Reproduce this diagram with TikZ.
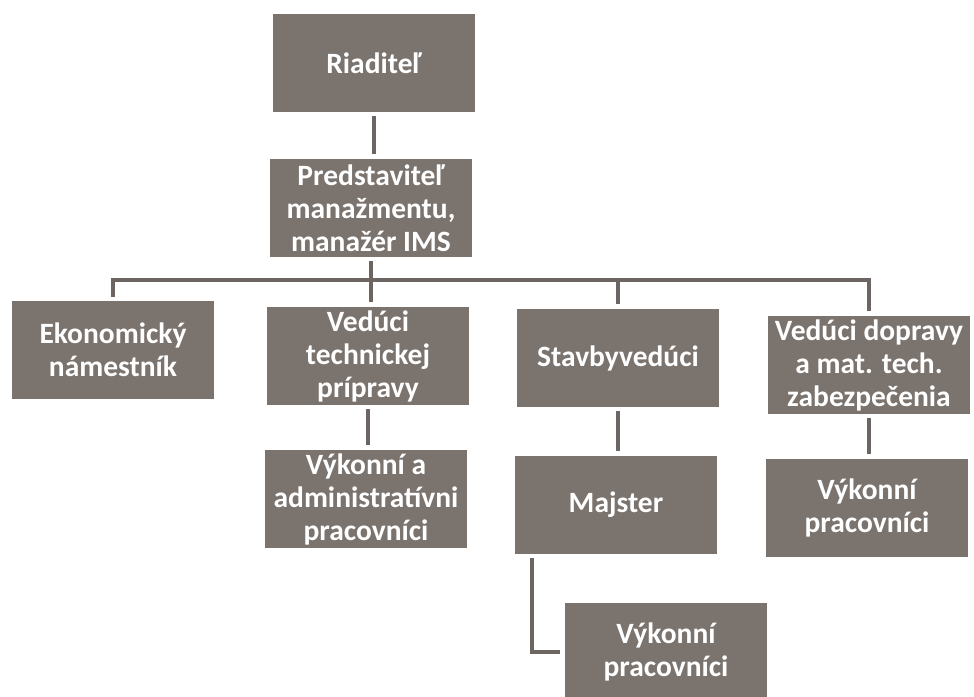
\documentclass[tikz,border=0pt]{standalone}
\usepackage{fontspec}
\setmainfont{Carlito}
\definecolor{boxgray}{RGB}{122,115,110}
\definecolor{linegray}{RGB}{108,101,97}
\tikzset{
  unit/.style={rectangle, fill=boxgray, text=white, align=center,
    font=\fontsize{29.5}{33}\selectfont\bfseries,
    minimum width=202pt, minimum height=98pt, inner sep=0pt},
  link/.style={draw=linegray, line width=3.5pt, shorten <=4pt, shorten >=5pt}
}
\begin{document}
\begin{tikzpicture}[x=1pt, y=-1pt]
    \clip (0, 0) rectangle (974, 696);
    \node[unit] (riad) at (374, 63) {Riaditeľ};
    \node[unit] (pred) at (371, 208) {Predstaviteľ\\manažmentu,\\manažér IMS};
    \node[unit] (ekon) at (113, 350) {Ekonomický\\námestník};
    \node[unit] (vtp) at (368, 356) {Vedúci\\technickej\\prípravy};
    \node[unit] (stav) at (618, 358) {Stavbyvedúci};
    \node[unit] (vdop) at (869, 365) {Vedúci dopravy\\a mat. tech.\\zabezpečenia};
    \node[unit] (vap) at (366, 499) {Výkonní a\\administratívni\\pracovníci};
    \node[unit] (majs) at (616, 505) {Majster};
    \node[unit] (vpr) at (867, 508) {Výkonní\\pracovníci};
    \node[unit] (vpm) at (666, 652) {Výkonní\\pracovníci};
    \coordinate (bus) at (0, 280);
    \draw[link] (riad.south) -- (riad.south |- pred.north);
    \draw[link] (pred.south) -- (pred.south |- vtp.north);
    \draw[link] (ekon.north) -- (ekon.north |- bus) -- (vdop.north |- bus) -- (vdop.north);
    \draw[link, shorten <=0pt] (stav.north |- bus) -- (stav.north);
    \foreach \top/\sub in {vtp/vap, stav/majs, vdop/vpr}
      \draw[link] (\top.south) -- (\top.south |- \sub.north);
    \draw[link] ([xshift=17pt]majs.south west) |- (vpm.west);
\end{tikzpicture}
\end{document}
